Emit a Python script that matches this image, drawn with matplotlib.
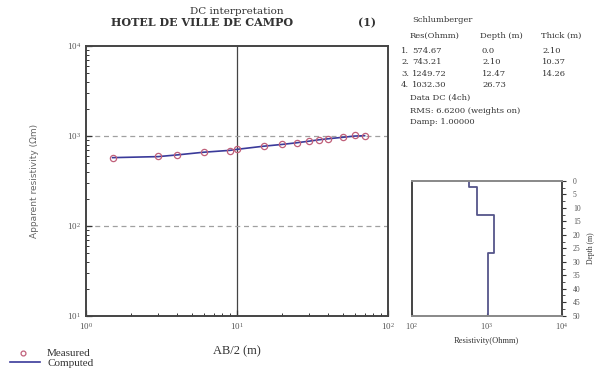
import matplotlib
matplotlib.use("Agg")
import matplotlib.pyplot as plt
from matplotlib.ticker import LogLocator, MultipleLocator, NullFormatter, FixedLocator

# Sounding data (Schlumberger array)
ab2 = [1.5, 3, 4, 6, 9, 10, 15, 20, 25, 30, 35, 40, 50, 60, 70]
rho_measured = [573, 592, 618, 661, 690, 713, 771, 805, 840, 875, 914, 931, 970, 1013, 1005]
rho_computed = [575, 590, 616, 660, 693, 711, 770, 807, 842, 876, 908, 931, 967, 998, 1008]

# Layered model
layer_res = [574.67, 743.21, 1249.72, 1032.30]
layer_depth = [0.0, 2.10, 12.47, 26.73]
layer_thick = [2.10, 10.37, 14.26]
model_bottom = 50

serif = "Liberation Serif"
tserif = "DejaVu Serif"
ink = "#333333"

fig = plt.figure(figsize=(6.05, 3.83), dpi=100)

# ---- apparent resistivity curve ----
ax = fig.add_axes([86 / 605, 1 - 316 / 383, 302 / 605, 270 / 383])
ax.set_xscale("log")
ax.set_yscale("log")
ax.set_xlim(1, 100)
ax.set_ylim(10, 1e4)

ax.axvline(10, color="#444444", lw=0.9, zorder=1)
for yv in (100, 1000):
    ax.axhline(yv, color="#a0a0a0", lw=0.9, ls=(0, (4, 3)), zorder=1)

ax.plot(ab2, rho_computed, color="#3a3a9a", lw=1.2, zorder=2)
ax.plot(ab2, rho_measured, ls="none", marker="o", ms=4.5, mfc="none",
        mec="#c0607a", mew=0.9, zorder=3)

ax.xaxis.set_major_locator(LogLocator(base=10, numticks=10))
ax.xaxis.set_minor_locator(LogLocator(base=10, subs=range(2, 10), numticks=10))
ax.yaxis.set_major_locator(LogLocator(base=10, numticks=10))
ax.yaxis.set_minor_locator(LogLocator(base=10, subs=range(2, 10), numticks=10))
ax.xaxis.set_minor_formatter(NullFormatter())
ax.yaxis.set_minor_formatter(NullFormatter())
ax.tick_params(which="both", direction="in", colors=ink, labelsize=6.5,
               top=False, right=False)
ax.tick_params(which="major", length=4, width=0.9)
ax.tick_params(which="minor", length=2.5, width=0.7)
for lab in ax.get_xticklabels() + ax.get_yticklabels():
    lab.set_fontfamily(serif)
    lab.set_color("#555555")
for sp in ax.spines.values():
    sp.set_color("#444444")
    sp.set_linewidth(1.4)

ax.set_xlabel("AB/2 (m)", fontsize=9, family=serif, color=ink, labelpad=10)
ax.set_ylabel("Apparent resistivity (Ωm)", fontsize=6.5, family="DejaVu Sans",
              color="#666666")
ax.yaxis.set_label_coords(-0.155, 0.5)

# ---- titles ----
fig.text(237 / 605, 1 - 11 / 383, "DC interpretation", ha="center", va="center",
         fontsize=7.5, family=tserif, color=ink)
fig.text(202 / 605, 1 - 23 / 383, "HOTEL DE VILLE DE CAMPO", ha="center", va="center",
         fontsize=8, family=tserif, color=ink, fontweight="bold")
fig.text(367 / 605, 1 - 23 / 383, "(1)", ha="center", va="center",
         fontsize=8, family=tserif, color=ink, fontweight="bold")

# ---- legend ----
fig.lines.append(plt.Line2D([23 / 605], [1 - 353 / 383], transform=fig.transFigure,
                            ls="none", marker="o", ms=3.5, mfc="none",
                            mec="#c0607a", mew=0.9))
fig.lines.append(plt.Line2D([10 / 605, 40 / 605], [1 - 362 / 383, 1 - 362 / 383],
                            transform=fig.transFigure, color="#3a3a9a", lw=1.2))
fig.text(47 / 605, 1 - 354 / 383, "Measured", fontsize=8, family=serif,
         color=ink, va="center")
fig.text(47 / 605, 1 - 363 / 383, "Computed", fontsize=8, family=serif,
         color=ink, va="center")

# ---- model table ----
tfs = 6
fig.text(412 / 605, 1 - 20 / 383, "Schlumberger", fontsize=tfs, family=tserif,
         color=ink, va="center")
hy = 1 - 36 / 383
fig.text(410 / 605, hy, "Res(Ohmm)", fontsize=tfs, family=tserif, color=ink, va="center")
fig.text(480 / 605, hy, "Depth (m)", fontsize=tfs, family=tserif, color=ink, va="center")
fig.text(541 / 605, hy, "Thick (m)", fontsize=tfs, family=tserif, color=ink, va="center")
row_y = [51, 62, 74, 85]
for i, r in enumerate(layer_res):
    yy = 1 - row_y[i] / 383
    fig.text(401 / 605, yy, f"{i + 1}.", fontsize=tfs, family=tserif, color=ink, va="center")
    fig.text(412 / 605, yy, f"{r:.2f}", fontsize=tfs, family=tserif, color=ink, va="center")
    fig.text(482 / 605, yy, f"{layer_depth[i]:.2f}" if i else "0.0", fontsize=tfs,
             family=tserif, color=ink, va="center")
    if i < len(layer_thick):
        fig.text(542 / 605, yy, f"{layer_thick[i]:.2f}", fontsize=tfs, family=tserif,
                 color=ink, va="center")
fig.text(410 / 605, 1 - 98 / 383, "Data DC (4ch)", fontsize=tfs, family=tserif,
         color=ink, va="center")
fig.text(410 / 605, 1 - 111 / 383, "RMS: 6.6200 (weights on)", fontsize=tfs,
         family=tserif, color=ink, va="center")
fig.text(410 / 605, 1 - 122 / 383, "Damp: 1.00000", fontsize=tfs, family=tserif,
         color=ink, va="center")

# ---- layered model panel ----
ax2 = fig.add_axes([411.7 / 605, 1 - 315.7 / 383, 150 / 605, 134.7 / 383])
ax2.set_xscale("log")
ax2.set_xlim(100, 1e4)
ax2.set_ylim(model_bottom, 0)
xs, ys = [], []
for i, r in enumerate(layer_res):
    top = layer_depth[i]
    bot = layer_depth[i + 1] if i + 1 < len(layer_depth) else model_bottom
    xs += [r, r]
    ys += [top, bot]
ax2.plot(xs, ys, color="#55558a", lw=1.3)

ax2.xaxis.set_major_locator(FixedLocator([1e2, 1e3, 1e4]))
ax2.xaxis.set_minor_locator(FixedLocator([]))
ax2.yaxis.tick_right()
ax2.yaxis.set_label_position("right")
ax2.yaxis.set_major_locator(MultipleLocator(5))
ax2.yaxis.set_minor_locator(MultipleLocator(2.5))
ax2.tick_params(axis="y", which="both", direction="out", colors=ink, labelsize=5.5,
                pad=5)
ax2.tick_params(axis="y", which="major", length=3, width=0.8)
ax2.tick_params(axis="y", which="minor", length=2, width=0.6)
ax2.tick_params(axis="x", which="major", direction="in", length=2, colors=ink,
                labelsize=6)
for lab in ax2.get_xticklabels() + ax2.get_yticklabels():
    lab.set_fontfamily(serif)
    lab.set_color("#555555")
for side, sp in ax2.spines.items():
    sp.set_linewidth(1.4)
    sp.set_color("#444444" if side in ("left", "right") else "#888888")
ax2.set_xlabel("Resistivity(Ohmm)", fontsize=6, family=serif, color=ink, labelpad=4)
ax2.set_ylabel("Depth (m)", fontsize=5.5, family=serif, color=ink, labelpad=5)

fig.savefig("out.png", dpi=100)
